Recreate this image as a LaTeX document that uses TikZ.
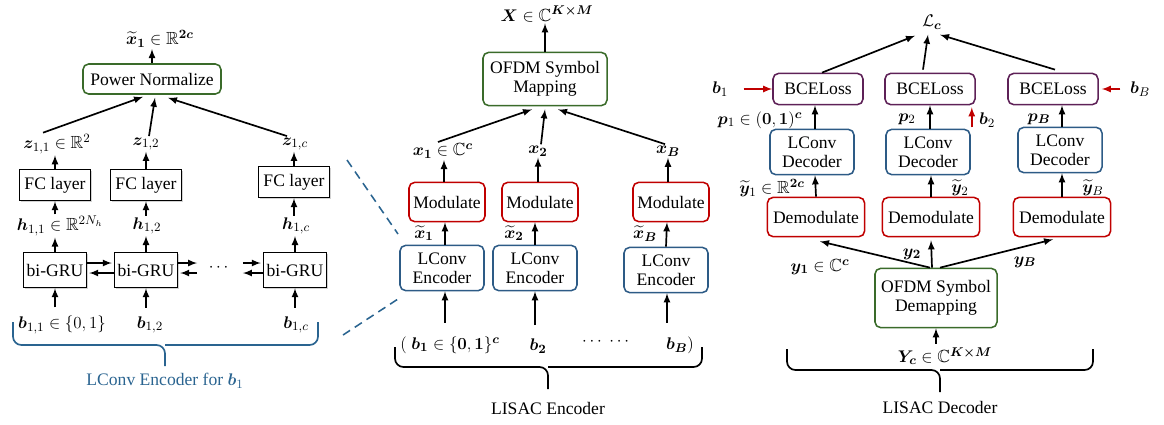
\documentclass[tikz,border=0pt]{standalone}
\usepackage{amsmath,amssymb}
\usepackage{bm}
\usepackage{fontspec}
\setmainfont{Liberation Serif}
\usetikzlibrary{calc,shadows}

\definecolor{mapgreen}{HTML}{3A6B2A}
\definecolor{encblue}{HTML}{2D5B86}
\definecolor{modred}{HTML}{C00000}
\definecolor{losspurple}{HTML}{5E2157}
\definecolor{bracecol}{HTML}{2A6490}

\tikzset{
  txt/.style={font=\fontsize{12.5}{13.5}\selectfont},
  box/.style={txt, draw, line width=1.1pt, rounded corners=4pt, align=center, inner sep=1pt},
  mapbox/.style={box, draw=mapgreen},
  encbox/.style={box, draw=encblue},
  modbox/.style={box, draw=modred},
  lossbox/.style={box, draw=losspurple},
  plainbox/.style={txt, draw, line width=0.9pt, fill=white, inner sep=1pt,
    drop shadow={shadow xshift=1pt, shadow yshift=-1pt, opacity=0.35}},
  lbl/.style={txt, inner sep=1pt},
  arr/.style={->, >=latex, line width=1.2pt},
  redarr/.style={arr, draw=modred},
  brace/.style={line width=1.2pt, rounded corners=6},
  zoomline/.style={dashed, dash pattern=on 6pt off 4pt, line width=1.1pt, draw=bracecol}
}

\begin{document}
\begin{tikzpicture}[x=0.025cm, y=-0.025cm]
\useasboundingbox (0,0) rectangle (1164,424);

% LConv encoder for b_1
\node[mapbox, minimum width=3.45cm, minimum height=0.75cm] (pn) at (152,79) {Power Normalize};
\node[lbl] (xt) at (160,39) {$\widetilde{\bm{x}}_{\bm{1}}\in\mathbb{R}^{\bm{2c}}$};
\draw[arr] (pn.north) -- (pn.north |- xt.south);

\node[lbl] (z11) at (57,144) {$\bm{z}_{1,1}\in\mathbb{R}^{2}$};
\node[lbl] (z12) at (146,144) {$\bm{z}_{1,2}$};
\node[lbl] (z1c) at (295,144) {$\bm{z}_{1,c}$};
\draw[arr] ($(z11.north)+(-14,0)$) -- ($(pn.south)+(-9,2)$);
\draw[arr] ($(z12.north)+(3,0)$) -- ($(pn.south)+(3,3)$);
\draw[arr] ($(z1c.north)+(-8,0)$) -- ($(pn.south)+(16,3)$);

\node[plainbox, minimum width=1.78cm, minimum height=0.78cm] (fc1) at (55,185) {FC layer};
\node[plainbox, minimum width=1.78cm, minimum height=0.78cm] (fc2) at (146,185) {FC layer};
\node[plainbox, minimum width=1.78cm, minimum height=0.78cm] (fc3) at (294,182) {FC layer};
\draw[arr] (fc1.north) -- (fc1.north |- z11.south);
\draw[arr] (fc2.north) -- (fc2.north |- z12.south);
\draw[arr] (fc3.north) -- (fc3.north |- z1c.south);

\node[lbl] (h11) at (60,226) {$\bm{h}_{1,1}\in\mathbb{R}^{2N_h}$};
\node[lbl] (h12) at (147,226) {$\bm{h}_{1,2}$};
\node[lbl] (h1c) at (296,226) {$\bm{h}_{1,c}$};
\draw[arr] (fc1.south |- h11.north) -- (fc1.south);
\draw[arr] (fc2.south |- h12.north) -- (fc2.south);
\draw[arr] (fc3.south |- h1c.north) -- (fc3.south);

\node[plainbox, minimum width=1.58cm, minimum height=0.88cm] (gru1) at (55,270) {bi-GRU};
\node[plainbox, minimum width=1.58cm, minimum height=0.88cm] (gru2) at (146,270) {bi-GRU};
\node[plainbox, minimum width=1.58cm, minimum height=0.88cm] (gru3) at (295,270) {bi-GRU};
\node[lbl] (gdots) at (220,268) {$\cdots$};
\draw[arr] (gru1.north) -- (gru1.north |- h11.south);
\draw[arr] (gru2.north) -- (gru2.north |- h12.south);
\draw[arr] (gru3.north) -- (gru3.north |- h1c.south);

\draw[arr] ($(gru1.east)+(0,-7)$) -- ($(gru2.west)+(-2,-7)$);
\draw[arr] ($(gru2.west)+(0,3)$) -- ($(gru1.east)+(2,3)$);
\draw[arr] ($(gru2.east)+(0,-7)$) -- ($(gdots.west)+(-10,-5)$);
\draw[arr] ($(gdots.west)+(-10,5)$) -- ($(gru2.east)+(2,3)$);
\draw[arr] ($(gdots.east)+(10,-5)$) -- ($(gru3.west)+(-2,-7)$);
\draw[arr] ($(gru3.west)+(0,3)$) -- ($(gdots.east)+(10,5)$);

\node[lbl] (b11) at (62,325) {$\bm{b}_{1,1}\in\{0,1\}$};
\node[lbl] (b12) at (150,325) {$\bm{b}_{1,2}$};
\node[lbl] (b1c) at (296,325) {$\bm{b}_{1,c}$};
\draw[arr] ($(gru1.south |- b11.north)+(0,-7)$) -- (gru1.south);
\draw[arr] ($(gru2.south |- b12.north)+(0,-7)$) -- (gru2.south);
\draw[arr] ($(gru3.south |- b1c.north)+(0,-7)$) -- (gru3.south);

\draw[brace, draw=bracecol] (13,322) -- (13,345) -- (165,345) -- (165,366);
\draw[brace, draw=bracecol] (318,322) -- (318,345) -- (165,345);
\node[lbl, text=bracecol] (enclbl) at (165,381) {LConv Encoder for $\bm{b}_1$};

\draw[zoomline] (347,160) -- (398,234);
\draw[zoomline] (343,335) -- (398,299);

% LISAC encoder
\node[mapbox, minimum width=3.1cm, minimum height=1.33cm] (map) at (545,79) {OFDM Symbol\\Mapping};
\node[lbl] (X) at (547,14) {$\bm{X}\in\mathbb{C}^{\bm{K\times M}}$};
\draw[arr] (map.north) -- (map.north |- X.south);

\node[lbl] (x1) at (443,151) {$\bm{x}_{\bm{1}}\in\mathbb{C}^{\bm{c}}$};
\node[lbl] (x2) at (538,151) {$\bm{x}_{\bm{2}}$};
\node[lbl] (xB) at (668,151) {$\bm{x}_{\bm{B}}$};
\draw[arr] ($(x1.north)+(-5,0)$) -- ($(map.south)+(-13,3)$);
\draw[arr] ($(x2.north)+(3,0)$) -- ($(map.south)+(0,3)$);
\draw[arr] ($(xB.north)+(-3,0)$) -- ($(map.south)+(13,3)$);

\node[modbox, minimum width=1.9cm, minimum height=0.98cm] (mod1) at (447,202) {Modulate};
\node[modbox, minimum width=1.9cm, minimum height=0.98cm] (mod2) at (540,202) {Modulate};
\node[modbox, minimum width=1.9cm, minimum height=0.98cm] (mod3) at (671,202) {Modulate};
\draw[arr] ($(mod1.north)+(-3,0)$) -- ($(mod1.north |- x1.south)+(-3,0)$);
\draw[arr] ($(mod2.north)+(-2,0)$) -- ($(mod2.north |- x2.south)+(-2,0)$);
\draw[arr] ($(mod3.north)+(-3,0)$) -- ($(mod3.north |- xB.south)+(-3,0)$);

\node[encbox, minimum width=2.1cm, minimum height=1.13cm] (enc1) at (442,268) {LConv\\Encoder};
\node[encbox, minimum width=2.1cm, minimum height=1.13cm] (enc2) at (535,268) {LConv\\Encoder};
\node[encbox, minimum width=2.1cm, minimum height=1.13cm] (enc3) at (666,270) {LConv\\Encoder};
\node[lbl] (xt1) at (424,233) {$\widetilde{\bm{x}}_{\bm{1}}$};
\node[lbl] (xt2) at (514,233) {$\widetilde{\bm{x}}_{\bm{2}}$};
\node[lbl] (xtB) at (645,234) {$\widetilde{\bm{x}}_{\bm{B}}$};
\draw[arr] ($(enc1.north)+(3,0)$) -- ($(mod1.south)+(-2,0)$);
\draw[arr] (enc2.north) -- ($(mod2.south)+(-5,0)$);
\draw[arr] (enc3.north) -- ($(mod3.south)+(-4,0)$);

\node[lbl] (bb1) at (450,345) {$(\;\bm{b}_{\bm{1}}\in\{\bm{0},\bm{1}\}^{\bm{c}}$};
\node[lbl] (bb2) at (538,346) {$\bm{b}_{\bm{2}}$};
\node[lbl] (bdots) at (607,342) {$\cdots\;\cdots$};
\node[lbl] (bbB) at (680,345) {$\bm{b}_{\bm{B}})$};
\draw[arr] ($(enc1.south |- bb1.north)+(3,-12)$) -- ($(enc1.south)+(3,0)$);
\draw[arr] ($(enc2.south |- bb2.north)+(0,-12)$) -- (enc2.south);
\draw[arr] ($(enc3.south |- bbB.north)+(1,-12)$) -- ($(enc3.south)+(1,0)$);

\draw[brace] (395,347) -- (395,367) -- (548,367) -- (548,389);
\draw[brace] (702,347) -- (702,367) -- (548,367);
\node[lbl] (enclisac) at (548,408) {LISAC Encoder};

% LISAC decoder
\node[lbl] (Lc) at (932,22) {$\mathcal{L}_{\bm{c}}$};
\node[lossbox, minimum width=2.25cm, minimum height=0.78cm] (bce1) at (818,89) {BCELoss};
\node[lossbox, minimum width=2.25cm, minimum height=0.78cm] (bce2) at (930,89) {BCELoss};
\node[lossbox, minimum width=2.25cm, minimum height=0.78cm] (bce3) at (1053,89) {BCELoss};
\draw[arr] ($(bce1.north)+(4,0)$) -- ($(Lc.south)+(-17,5)$);
\draw[arr] ($(bce2.north)+(-7,-3)$) -- ($(Lc.south)+(-4,4)$);
\draw[arr] ($(bce3.north)+(2,-3)$) -- ($(Lc.south)+(8,4)$);

\node[lbl] (b1) at (720,89) {$\bm{b}_1$};
\node[lbl] (bB) at (1140,89) {$\bm{b}_B$};
\node[lbl] (b2) at (987,120) {$\bm{b}_2$};
\draw[redarr] ($(b1.east)+(14,0)$) -- (bce1.west);
\draw[redarr] ($(bB.west)+(-8,0)$) -- ($(bce3.east)+(3,0)$);
\draw[redarr] ($(bce2.south east)+(-4,22)$) -- ($(bce2.south east)+(-4,2)$);

\node[lbl] (p1) at (760,120) {$\bm{p}_1\in(\bm{0},\bm{1})^{\bm{c}}$};
\node[lbl] (p2) at (907,119) {$\bm{p}_2$};
\node[lbl] (pB) at (1039,119) {$\bm{p}_{\bm{B}}$};

\node[encbox, minimum width=2.1cm, minimum height=1.13cm] (dec1) at (812,152) {LConv\\Decoder};
\node[encbox, minimum width=2.1cm, minimum height=1.13cm] (dec2) at (928,152) {LConv\\Decoder};
\node[encbox, minimum width=2.1cm, minimum height=1.13cm] (dec3) at (1060,150) {LConv\\Decoder};
\draw[arr] ($(dec1.north)+(3,0)$) -- ($(bce1.south)+(-3,0)$);
\draw[arr] ($(dec2.north)+(2,0)$) -- (bce2.south);
\draw[arr] ($(dec3.north)+(2,0)$) -- ($(bce3.south)+(9,0)$);

\node[lbl] (yt1) at (772,188) {$\widetilde{\bm{y}}_1\in\mathbb{R}^{\bm{2c}}$};
\node[lbl] (yt2) at (960,188) {$\widetilde{\bm{y}}_2$};
\node[lbl] (ytB) at (1093,188) {$\widetilde{\bm{y}}_B$};

\node[modbox, minimum width=2.43cm, minimum height=0.98cm] (dem1) at (816,217) {Demodulate};
\node[modbox, minimum width=2.43cm, minimum height=0.98cm] (dem2) at (931,217) {Demodulate};
\node[modbox, minimum width=2.43cm, minimum height=0.98cm] (dem3) at (1062,217) {Demodulate};
\draw[arr] (dem1.north) -- ($(dec1.south)+(3,0)$);
\draw[arr] (dem2.north) -- ($(dec2.south)+(3,0)$);
\draw[arr] (dem3.north) -- ($(dec3.south)+(2,0)$);

\node[mapbox, minimum width=3.05cm, minimum height=1.48cm] (demap) at (936,298) {OFDM Symbol\\Demapping};
\node[lbl] (y1) at (820,267) {$\bm{y}_{\bm{1}}\in\mathbb{C}^{\bm{c}}$};
\node[lbl] (y2) at (912,254) {$\bm{y}_{\bm{2}}$};
\node[lbl] (yB) at (1025,262) {$\bm{y}_{\bm{B}}$};
\draw[arr] ($(demap.north)+(-6,0)$) -- ($(dem1.south)+(4,4)$);
\draw[arr] ($(demap.north)+(-4,0)$) -- ($(dem2.south)+(0,3)$);
\draw[arr] ($(demap.north)+(4,0)$) -- ($(dem3.south)+(-9,2)$);

\node[lbl] (Yc) at (945,356) {$\bm{Y}_{\bm{c}}\in\mathbb{C}^{\bm{K\times M}}$};
\draw[arr] ($(demap.south |- Yc.north)+(0,-2)$) -- (demap.south);

\draw[brace] (787,349) -- (787,370) -- (940,370) -- (940,392);
\draw[brace] (1093,349) -- (1093,370) -- (940,370);
\node[lbl] (declisac) at (940,407) {LISAC Decoder};

\end{tikzpicture}
\end{document}
